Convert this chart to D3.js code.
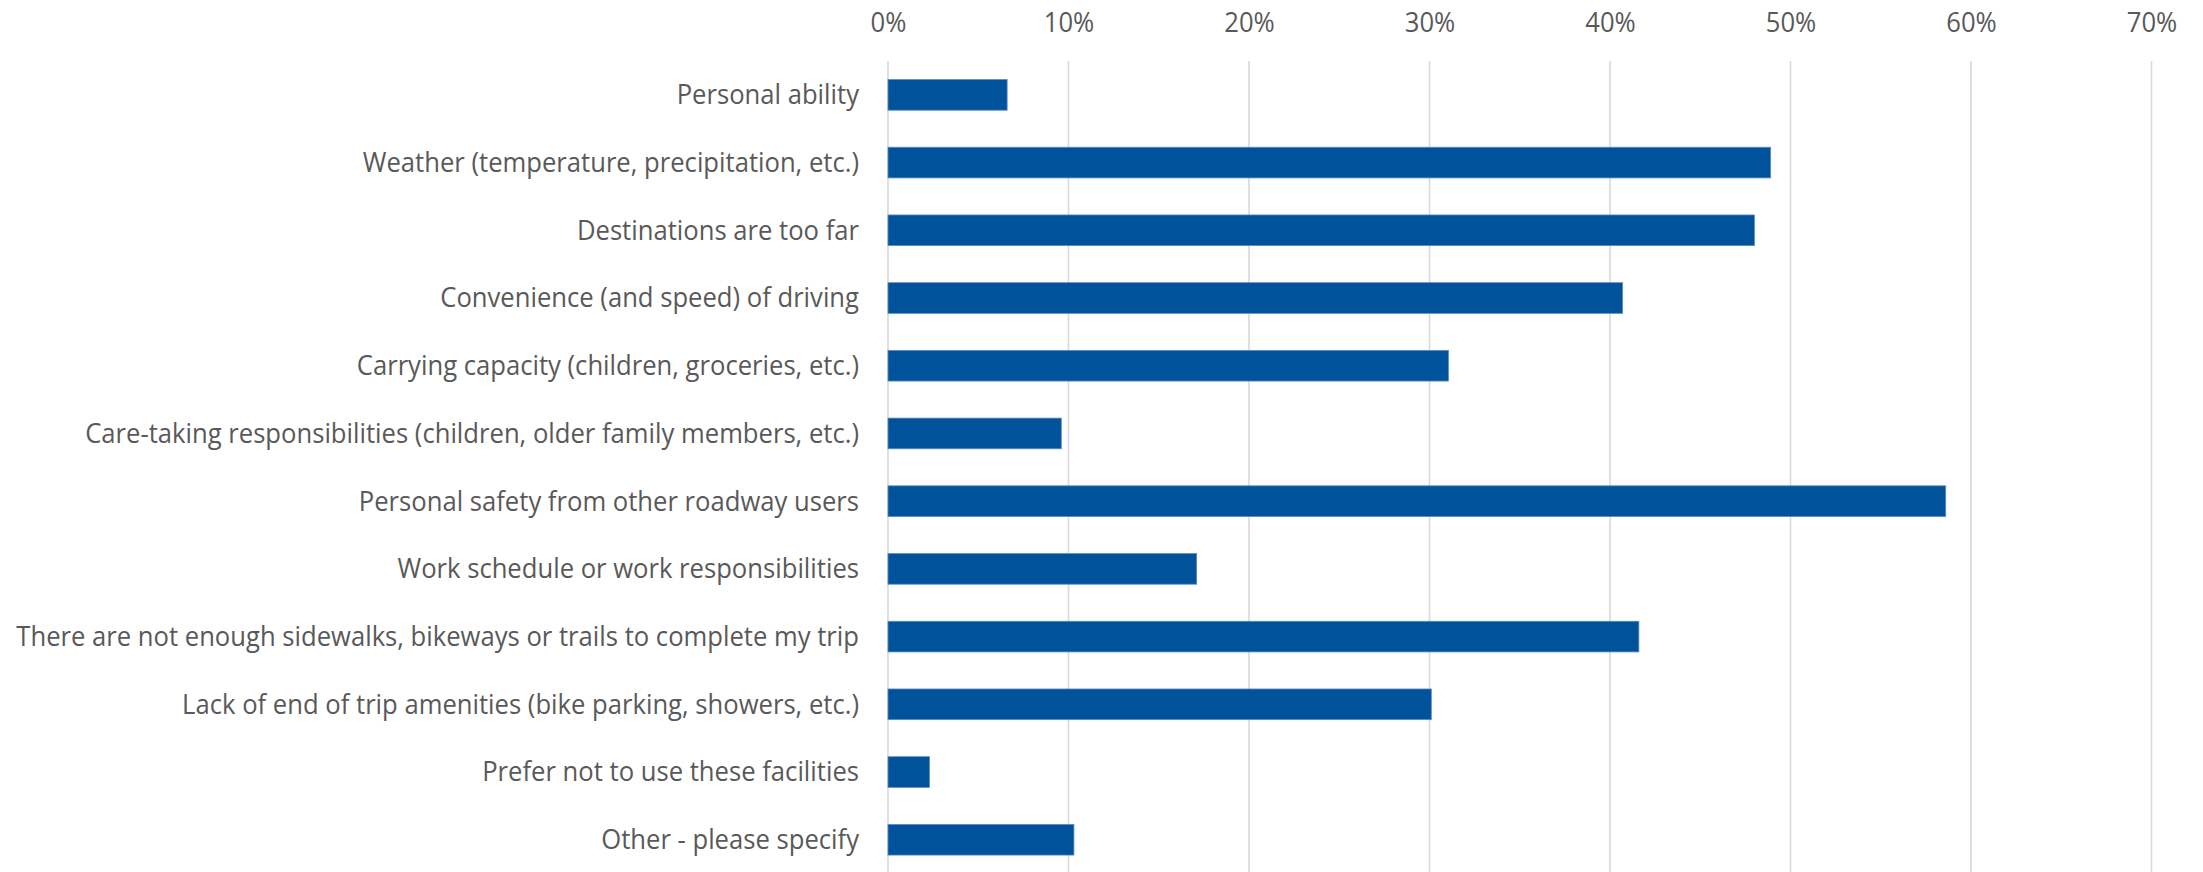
<!DOCTYPE html>
<html>
<head>
<meta charset="utf-8">
<script src="https://cdn.jsdelivr.net/npm/d3@7"></script>
<style>
  html, body { margin: 0; padding: 0; background: #ffffff; }
  svg { display: block; }
  text { font-family: "Open Sans", "Noto Sans", sans-serif; fill: #595959; }
</style>
</head>
<body>
<svg id="chart" width="2203" height="872"></svg>
<script>
const categories = [
  "Personal ability",
  "Weather (temperature, precipitation, etc.)",
  "Destinations are too far",
  "Convenience (and speed) of driving",
  "Carrying capacity (children, groceries, etc.)",
  "Care-taking responsibilities (children, older family members, etc.)",
  "Personal safety from other roadway users",
  "Work schedule or work responsibilities",
  "There are not enough sidewalks, bikeways or trails to complete my trip",
  "Lack of end of trip amenities (bike parking, showers, etc.)",
  "Prefer not to use these facilities",
  "Other - please specify"
];
const values = [0.066, 0.489, 0.480, 0.407, 0.3105, 0.096, 0.586, 0.171, 0.416, 0.301, 0.023, 0.103];
const tickValues = [0, 0.1, 0.2, 0.3, 0.4, 0.5, 0.6, 0.7];

(function() {
const W = 2203, H = 872;
const svg = d3.select("#chart");
const plotLeft = 888, plotRight = 2151.5, plotTop = 61, plotBottom = 873.6;
const fontSize = 27.5;
const widthFactor = 0.932;

const x = d3.scaleLinear().domain([0, 0.7]).range([plotLeft, plotRight]);
const y = d3.scaleBand().domain(categories).range([plotTop, plotBottom])
  .paddingInner(0.547).paddingOuter(0.2735);

// gridlines
svg.append("g").selectAll("line").data(tickValues).join("line")
  .attr("x1", d => x(d)).attr("x2", d => x(d))
  .attr("y1", plotTop).attr("y2", H)
  .attr("stroke", "#d9d9d9").attr("stroke-width", 1.6);

// top axis labels
const xAxis = d3.axisTop(x).tickValues(tickValues).tickFormat(d3.format(".0%")).tickSize(0).tickPadding(0);
const gx = svg.append("g").attr("transform", "translate(0,32)").call(xAxis);
gx.select(".domain").remove();
gx.selectAll("text")
  .attr("dy", 0)
  .style("font-size", fontSize + "px")
  .style("font-family", '"Open Sans", "Noto Sans", sans-serif')
  .attr("fill", "#595959");

// bars
svg.append("g").selectAll("rect").data(values).join("rect")
  .attr("x", x(0))
  .attr("y", (d, i) => y(categories[i]))
  .attr("width", d => x(d) - x(0))
  .attr("height", y.bandwidth())
  .attr("fill", "#00529b")
  .attr("stroke", "#5d8cc2").attr("stroke-width", 0.8);

// category labels
const yAxis = d3.axisLeft(y).tickSize(0).tickPadding(0);
const gy = svg.append("g").attr("transform", "translate(859,0)").call(yAxis);
gy.select(".domain").remove();
gy.selectAll("text")
  .attr("dy", "0.34em")
  .style("font-size", fontSize + "px")
  .style("font-family", '"Open Sans", "Noto Sans", sans-serif')
  .attr("fill", "#595959");

// condense text horizontally to mimic narrower original face
svg.selectAll("text").each(function() {
  const len = this.getComputedTextLength();
  d3.select(this).attr("textLength", len * widthFactor).attr("lengthAdjust", "spacingAndGlyphs");
});
})();
</script>
</body>
</html>
